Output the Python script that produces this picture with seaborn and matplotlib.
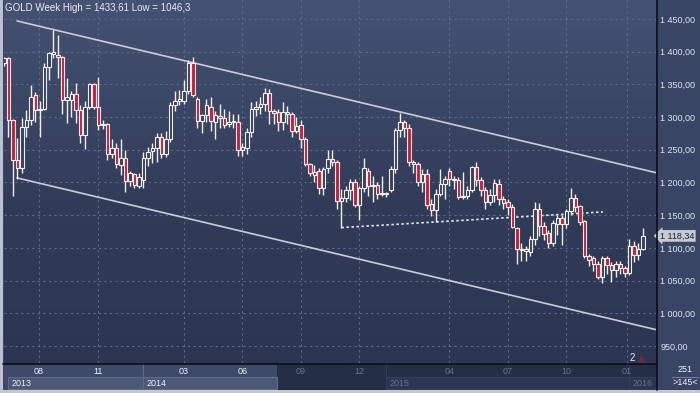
import numpy as np
import matplotlib
matplotlib.use('Agg')
import matplotlib.pyplot as plt
import matplotlib.transforms as mtransforms
from matplotlib.patches import Rectangle
import seaborn as sns

sns.set_theme(style='dark')
plt.rcParams['font.family'] = ['Liberation Sans', 'DejaVu Sans']

# weekly OHLC (index 0 = first visible week)
opens = [1382, 1390, 1296, 1234, 1222, 1285, 1296, 1334, 1311, 1313, 1377, 1396, 1395, 1392, 1326, 1326,
         1335, 1311, 1273, 1316, 1350, 1316, 1288, 1289, 1243, 1252, 1227, 1237, 1202, 1213, 1195, 1204,
         1237, 1248, 1253, 1269, 1243, 1266, 1318, 1325, 1325, 1340, 1383, 1327, 1294, 1303, 1315, 1293,
         1302, 1299, 1290, 1292, 1293, 1250, 1252, 1277, 1313, 1315, 1320, 1337, 1310, 1307, 1293, 1305,
         1305, 1279, 1288, 1267, 1228, 1212, 1217, 1191, 1222, 1236, 1231, 1172, 1177, 1188, 1200, 1166,
         1191, 1218, 1196, 1196, 1182, 1182, 1189, 1221, 1280, 1293, 1283, 1232, 1229, 1200, 1213, 1167,
         1158, 1182, 1197, 1217, 1206, 1204, 1178, 1180, 1188, 1224, 1204, 1189, 1170, 1181, 1198, 1174,
         1170, 1163, 1130, 1097, 1098, 1093, 1114, 1160, 1133, 1122, 1107, 1137, 1145, 1137, 1157, 1176,
         1164, 1141, 1088, 1084, 1076, 1056, 1085, 1074, 1066, 1075, 1069, 1061, 1103, 1089, 1099]
highs = [1392, 1392, 1297, 1268, 1298, 1311, 1349, 1339, 1324, 1382, 1400, 1433.61, 1426, 1394, 1359, 1340,
         1352, 1319, 1324, 1352, 1352, 1362, 1295, 1291, 1266, 1260, 1266, 1250, 1218, 1215, 1214, 1247,
         1255, 1260, 1275, 1275, 1278, 1323, 1340, 1342, 1357, 1387, 1392, 1330, 1305, 1327, 1330, 1310,
         1320, 1312, 1310, 1305, 1305, 1260, 1283, 1323, 1325, 1330, 1345, 1343, 1312, 1312, 1323, 1317,
         1308, 1300, 1295, 1270, 1230, 1227, 1222, 1224, 1250, 1250, 1235, 1190, 1195, 1205, 1206, 1195,
         1237, 1222, 1210, 1200, 1210, 1185, 1225, 1283, 1306, 1295, 1290, 1235, 1232, 1220, 1220, 1175,
         1190, 1220, 1210, 1222, 1210, 1208, 1216, 1195, 1225, 1232, 1208, 1193, 1190, 1205, 1205, 1180,
         1175, 1167, 1132, 1108, 1103, 1118, 1170, 1168, 1140, 1127, 1143, 1150, 1150, 1160, 1191, 1183,
         1166, 1143, 1090, 1088, 1080, 1088, 1088, 1078, 1080, 1080, 1072, 1113, 1110, 1108, 1130]
lows = [1378, 1270, 1180, 1206, 1214, 1270, 1288, 1293, 1270, 1311, 1357, 1390, 1359, 1304, 1291, 1300,
        1291, 1260, 1251, 1313, 1313, 1280, 1282, 1234, 1237, 1222, 1211, 1186, 1195, 1191, 1191, 1191,
        1225, 1230, 1232, 1237, 1239, 1262, 1310, 1318, 1320, 1335, 1330, 1283, 1276, 1293, 1279, 1266,
        1283, 1283, 1285, 1283, 1240, 1240, 1244, 1270, 1302, 1305, 1310, 1290, 1290, 1278, 1280, 1290,
        1270, 1275, 1252, 1225, 1210, 1200, 1182, 1181, 1215, 1225, 1160, 1131, 1170, 1173, 1163, 1142,
        1185, 1180, 1170, 1175, 1180, 1178, 1185, 1215, 1270, 1270, 1225, 1215, 1195, 1185, 1160, 1148,
        1140, 1180, 1175, 1195, 1190, 1175, 1175, 1175, 1185, 1195, 1180, 1160, 1165, 1170, 1165, 1160,
        1150, 1130, 1076, 1080, 1080, 1087, 1105, 1118, 1112, 1100, 1103, 1120, 1105, 1130, 1150, 1155,
        1135, 1085, 1072, 1065, 1052, 1046.3, 1060, 1048, 1055, 1060, 1055, 1058, 1078, 1082, 1097]
closes = [1390, 1296, 1234, 1222, 1285, 1296, 1331, 1311, 1313, 1377, 1398, 1399, 1392, 1326, 1330, 1336,
          1311, 1273, 1316, 1350, 1316, 1288, 1290, 1243, 1252, 1228, 1237, 1202, 1214, 1196, 1209, 1237,
          1247, 1253, 1269, 1243, 1266, 1318, 1325, 1327, 1340, 1383, 1334, 1294, 1303, 1318, 1294, 1303,
          1298, 1288, 1293, 1294, 1250, 1254, 1277, 1313, 1315, 1320, 1337, 1310, 1306, 1293, 1308, 1307,
          1279, 1286, 1267, 1229, 1215, 1216, 1191, 1221, 1236, 1231, 1172, 1177, 1188, 1200, 1166, 1191,
          1222, 1195, 1194, 1182, 1183, 1183, 1221, 1280, 1293, 1283, 1232, 1229, 1200, 1213, 1166, 1158,
          1182, 1197, 1205, 1206, 1204, 1178, 1180, 1188, 1223, 1204, 1189, 1170, 1181, 1199, 1174, 1168,
          1163, 1132, 1098, 1099, 1095, 1114, 1160, 1133, 1121, 1107, 1138, 1145, 1137, 1157, 1176, 1163,
          1140, 1088, 1082, 1076, 1056, 1085, 1074, 1066, 1075, 1069, 1061, 1103, 1089, 1099, 1118.34]

month_ticks = [7.8, 21.0, 40.0, 53.0, 66.0, 79.0, 99.0, 112.0, 125.0, 138.4]
month_labels = ['08', '11', '03', '06', '09', '12', '04', '07', '10', '01']
year_starts = [0.9, 31.0, 84.9, 138.9]
year_labels = ['2013', '2014', '2015', '2016']
price_ticks = list(range(950, 1451, 50))

channel_upper = ([2.9, 144.9], [1447, 1215])
channel_lower = ([2.9, 144.9], [1207, 975])
support_line = ([75, 133.1], [1131, 1155])
view_split = 60.7
last_price = closes[-1]

W, H = 700, 393
fig = plt.figure(figsize=(W / 100, H / 100), dpi=100, facecolor='#394564')

# main chart area
ax = fig.add_axes([3.5 / W, 30 / H, (656 - 3.5) / W, 363 / H])
xlim = (-0.1, 144.9)
ylim = (924, 1479)

grad = np.linspace(0, 1, 256)[:, None]
top_c = np.array([0x45, 0x52, 0x73]) / 255
mid_c = np.array([0x31, 0x3c, 0x59]) / 255
bot_c = np.array([0x2c, 0x36, 0x52]) / 255
t = np.clip(grad / 0.55, 0, 1)
img = np.where(grad < 0.55, top_c * (1 - t) + mid_c * t,
               mid_c * (1 - (grad - 0.55) / 0.45) + bot_c * ((grad - 0.55) / 0.45))
img = img.reshape(256, 1, 3)
ax.imshow(img, extent=[0, 1, 0, 1], transform=ax.transAxes, aspect='auto', zorder=0)

x = np.arange(len(closes))
o = np.array(opens, float)
c = np.array(closes, float)
up = c >= o
edge = '#f2efe6'
ax.vlines(x, lows, highs, color=edge, lw=1.0, zorder=3)
body_h = np.maximum(np.abs(c - o), 1.6)
body_b = np.minimum(o, c)
ax.bar(x[up], body_h[up], bottom=body_b[up], width=0.72, facecolor='#35405d',
       edgecolor=edge, linewidth=0.8, zorder=4)
ax.bar(x[~up], body_h[~up], bottom=body_b[~up], width=0.72, facecolor='#d8163c',
       edgecolor=edge, linewidth=0.8, zorder=4)

sns.lineplot(x=channel_upper[0], y=channel_upper[1], ax=ax, color='#c9cdd8', lw=1.2, zorder=2)
sns.lineplot(x=channel_lower[0], y=channel_lower[1], ax=ax, color='#c9cdd8', lw=1.2, zorder=2)
ax.plot(support_line[0], support_line[1], color='#e4e6ee', lw=1.2, ls=(0, (1.5, 1.5)), zorder=2)

ax.set_xlim(*xlim)
ax.set_ylim(*ylim)
ax.set_xticks(month_ticks)
ax.set_xticklabels([])
ax.set_yticks(price_ticks)
ax.set_yticklabels([f'{v:,.2f}'.replace(',', ' ').replace('.', ',') for v in price_ticks])
ax.yaxis.tick_right()
ax.tick_params(axis='y', length=0, labelsize=6.5, labelcolor='#dde5f2', pad=3)
ax.tick_params(axis='x', length=0)
ax.grid(True, color='#5d6a89', lw=0.8, ls=(0, (2, 3)))
ax.set_axisbelow(True)
for s in ax.spines.values():
    s.set_visible(False)
ax.set_xlabel('')
ax.set_ylabel('')

ax.text(0.003, 0.978, 'GOLD Week High = 1433,61 Low = 1046,3', transform=ax.transAxes,
        color='#e8ecf4', fontsize=7, va='center', ha='left', zorder=6)

trans = mtransforms.blended_transform_factory(ax.transAxes, ax.transData)
ax.text(1.006, last_price, f'{last_price:,.2f}'.replace(',', ' ').replace('.', ','),
        transform=trans, fontsize=6.5, color='#1e2433', va='center', ha='left',
        bbox=dict(boxstyle='larrow,pad=0.15', fc='#c6cad2', ec='none'), clip_on=False, zorder=7)

ax.text(139.6, 931.5, '2', color='#e8ecf4', fontsize=7, ha='center', va='center', zorder=6)
ax.plot([141.6], [930], marker='^', ms=4, color='#6b2c3e', zorder=6)

# bottom time strip
axb = fig.add_axes([3.5 / W, 3 / H, (656 - 3.5) / W, 26 / H], sharex=ax)
axb.axis('off')
axb.set_ylim(26, 0)
axb.add_patch(Rectangle((xlim[0], 0), view_split - xlim[0], 26, fc='#3d4a69', ec='none'))
axb.add_patch(Rectangle((view_split, 0), xlim[1] - view_split, 26, fc='#252e47', ec='none'))
year_ends = year_starts[1:] + [xlim[1]]
for ys, ye, lab in zip(year_starts, year_ends, year_labels):
    bright = ys < view_split
    if bright:
        fc, ec, tc = '#4b5876', '#5e6a87', '#eef2f8'
        ye = min(ye, view_split)
    else:
        fc, ec, tc = '#2c3650', '#343e59', '#66718c'
    axb.add_patch(Rectangle((ys, 13), ye - ys, 12, fc=fc, ec=ec, lw=0.8))
    axb.text(ys + 0.8, 19, lab, color=tc, fontsize=6.5, va='center', ha='left')
    if ys > 2:
        axb.plot([ys, ys], [0, 25], color=ec, lw=0.8)
for mt, ml in zip(month_ticks, month_labels):
    axb.text(mt, 7.7, ml, color='#eef2f8' if mt < view_split else '#66718c',
             fontsize=6.5, ha='center', va='center')
axb.set_xlim(*xlim)

# frame pieces
fig.add_artist(Rectangle((0, 0), 3 / W, 1, transform=fig.transFigure, fc='#bcc2cd', ec='none', zorder=10))
fig.add_artist(Rectangle((0, 0), 1, 3 / H, transform=fig.transFigure, fc='#c3c8d1', ec='none', zorder=10))
fig.add_artist(plt.Line2D([656.5 / W, 656.5 / W], [3 / H, 1], transform=fig.transFigure,
                          color='#0c0e14', lw=1.2, zorder=10))
fig.add_artist(plt.Line2D([3 / W, 656.5 / W], [29.5 / H, 29.5 / H], transform=fig.transFigure,
                          color='#0c0e14', lw=1.2, zorder=10))
fig.text(685 / W, 1 - 370 / H, '251', color='#eef2f8', fontsize=6.5, ha='center', va='center')
fig.add_artist(plt.Line2D([672 / W, 698 / W], [1 - 376.5 / H, 1 - 376.5 / H], transform=fig.transFigure,
                          color='#7d88a3', lw=0.6))
fig.text(685 / W, 1 - 382.7 / H, '>145<', color='#eef2f8', fontsize=6.5, ha='center', va='center')

fig.savefig('out.png', dpi=100, facecolor=fig.get_facecolor())
